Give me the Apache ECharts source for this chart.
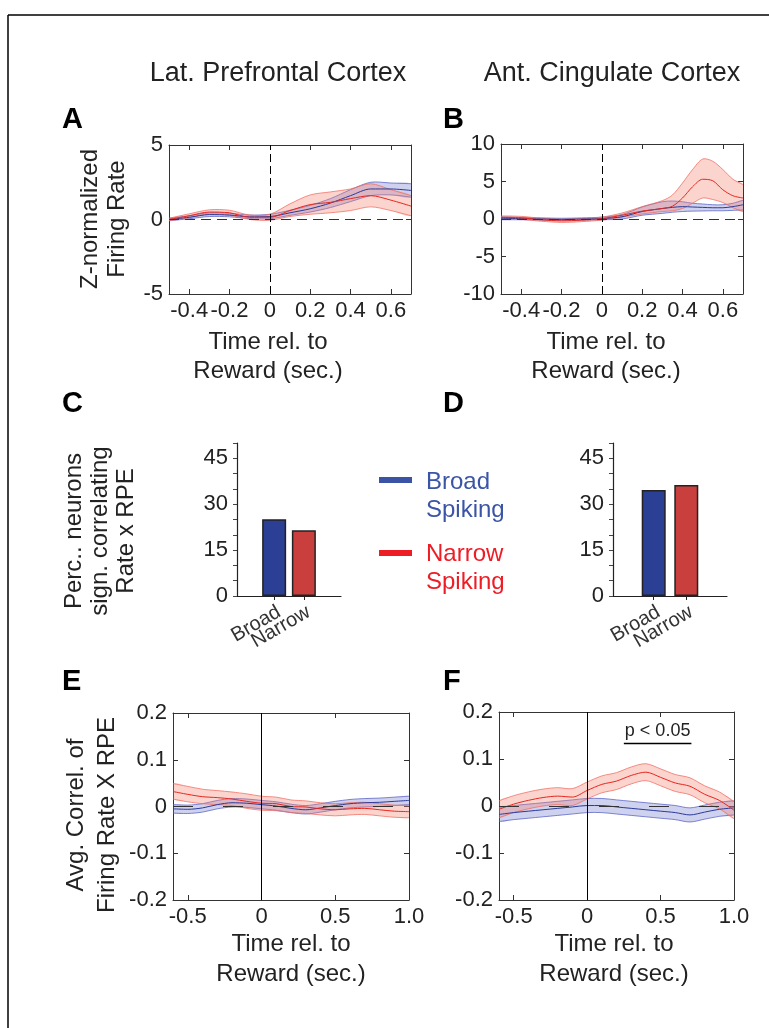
<!DOCTYPE html>
<html><head><meta charset="utf-8">
<script src="https://cdn.jsdelivr.net/npm/echarts@6/dist/echarts.min.js"></script>
<style>html,body{margin:0;padding:0;background:#fff}#c{width:769px;height:1028px}</style>
</head><body><div id="c"></div>
<script>
// ---------- DATA ----------
// Panel A (Lat. Prefrontal Cortex) z-normalized firing rate
const tA = [-0.5,-0.4,-0.3,-0.2,-0.1,0,0.1,0.2,0.3,0.4,0.5,0.6,0.7];
const aBroadMean = [0.0,0.15,0.33,0.3,0.18,0.2,0.45,0.72,1.1,1.6,2.05,2.05,1.95];
const aBroadHi   = [0.08,0.25,0.45,0.42,0.3,0.35,0.62,0.95,1.4,2.0,2.5,2.45,2.4];
const aBroadLo   = [-0.08,0.05,0.2,0.18,0.06,0.05,0.28,0.5,0.8,1.2,1.6,1.65,1.5];
const aNarrowMean= [0.0,0.25,0.5,0.45,0.15,0.15,0.6,1.0,1.15,1.4,1.6,1.3,0.9];
const aNarrowHi  = [0.08,0.38,0.65,0.62,0.3,0.35,1.05,1.65,1.85,2.05,2.4,2.0,1.6];
const aNarrowLo  = [-0.08,0.12,0.35,0.28,0.0,-0.05,0.2,0.35,0.45,0.6,0.85,0.6,0.25];
// Panel B (Ant. Cingulate Cortex)
const tB = [-0.5,-0.4,-0.3,-0.2,-0.1,0,0.1,0.2,0.3,0.35,0.4,0.45,0.5,0.55,0.6,0.65,0.7];
const bBroadMean = [0.1,0.05,0,-0.05,0,0.05,0.3,1.0,1.4,1.55,1.65,1.6,1.55,1.5,1.5,1.65,1.9];
const bBroadHi   = [0.3,0.2,0.15,0.1,0.15,0.25,0.6,1.6,2.3,2.4,2.3,2.1,2.0,1.9,1.9,2.1,2.5];
const bBroadLo   = [-0.1,-0.1,-0.15,-0.2,-0.15,-0.1,0.0,0.5,0.75,0.9,1.0,1.05,1.07,1.1,1.1,1.15,1.2];
const bNarrowMean= [0.2,0.15,-0.1,-0.25,-0.15,0.05,0.5,1.05,1.4,1.7,2.8,4.3,5.3,5.1,3.9,3.1,2.8];
const bNarrowHi  = [0.4,0.35,0.1,-0.05,0.05,0.25,0.8,1.65,2.45,3.2,4.8,6.6,8.0,7.7,6.6,5.3,4.6];
const bNarrowLo  = [0.0,-0.05,-0.3,-0.45,-0.35,-0.15,0.25,0.67,1.0,1.1,1.4,2.1,2.8,2.6,2.2,1.5,1.0];
// Panels C/D: percentage of neurons significantly correlating Rate x RPE
const barCats = ['Broad','Narrow'];
const barLPFC = [25.1, 21.5];
const barACC  = [34.6, 36.3];
// Panels E/F: avg correlation of firing rate x RPE
const tE = [-0.6,-0.5,-0.4,-0.3,-0.2,-0.1,0,0.1,0.2,0.3,0.4,0.5,0.6,0.7,0.8,0.9,1.0];
const eNarrowMean= [0.032,0.026,0.021,0.019,0.016,0.011,0.007,0.006,0.0,-0.001,-0.005,-0.007,-0.005,-0.004,-0.007,-0.01,-0.011];
const eNarrowHi  = [0.049,0.043,0.037,0.034,0.031,0.027,0.022,0.02,0.014,0.012,0.008,0.006,0.008,0.009,0.006,0.003,0.002];
const eNarrowLo  = [0.016,0.01,0.006,0.004,0.002,-0.004,-0.008,-0.009,-0.013,-0.015,-0.018,-0.02,-0.018,-0.017,-0.02,-0.023,-0.024];
const eBroadMean = [-0.005,-0.006,-0.003,0.004,0.008,0.007,0.004,0.001,-0.004,-0.007,-0.003,0.002,0.006,0.008,0.009,0.011,0.013];
const eBroadHi   = [0.004,0.003,0.006,0.013,0.017,0.016,0.013,0.01,0.005,0.002,0.006,0.011,0.015,0.017,0.018,0.02,0.022];
const eBroadLo   = [-0.014,-0.015,-0.012,-0.005,-0.001,-0.002,-0.005,-0.008,-0.013,-0.016,-0.012,-0.007,-0.003,-0.001,0.0,0.002,0.004];
const fNarrowMean= [-0.007,0.004,0.012,0.018,0.021,0.019,0.033,0.046,0.053,0.065,0.072,0.061,0.049,0.042,0.025,0.012,-0.009];
const fNarrowHi  = [0.011,0.022,0.03,0.036,0.039,0.037,0.051,0.064,0.071,0.083,0.09,0.079,0.067,0.06,0.043,0.03,0.009];
const fNarrowLo  = [-0.025,-0.014,-0.006,0.0,0.003,0.001,0.015,0.028,0.035,0.047,0.054,0.043,0.031,0.024,0.007,-0.006,-0.027];
const fBroadMean = [-0.018,-0.014,-0.011,-0.008,-0.005,-0.002,0.001,0.001,-0.002,-0.005,-0.008,-0.011,-0.014,-0.019,-0.013,-0.007,-0.004];
const fBroadHi   = [-0.003,0.001,0.004,0.007,0.01,0.013,0.016,0.016,0.013,0.01,0.007,0.004,0.001,-0.004,0.002,0.008,0.011];
const fBroadLo   = [-0.033,-0.029,-0.026,-0.023,-0.02,-0.017,-0.014,-0.014,-0.017,-0.02,-0.023,-0.026,-0.029,-0.034,-0.028,-0.022,-0.019];
const sigWindow = [0.25, 0.71];
const sigLevel = 0.133;
// tick labels
const ticksAB = [-0.4,-0.2,0,0.2,0.4,0.6];
const ticksEF = [-0.5,0,0.5,1.0];

// ---------- STYLE ----------
const FF = 'Liberation Sans, Arial, Helvetica, sans-serif';
const TXT = '#222';
const AX = '#333';
const RED = '#e8261f', RED_FILL = 'rgba(246,125,105,0.33)', RED_EDGE = 'rgba(240,105,95,0.75)';
const BLUE = '#2b3a99', BLUE_FILL = 'rgba(95,105,200,0.30)', BLUE_EDGE = 'rgba(85,95,195,0.75)';

const grids = [], xAxes = [], yAxes = [], series = [];

function fmtNum(v){ return String(+(+v).toFixed(2)); }

function bandSeries(xi, yi, xs, lo, hi, fill, edge){
  return {type:'custom', xAxisIndex:xi, yAxisIndex:yi, clip:true, silent:true, z:2,
    data:[[xs[0], lo[0]]],
    renderItem:function(params, api){
      const up = xs.map((x,i)=>api.coord([x,hi[i]]));
      const dn = xs.map((x,i)=>api.coord([x,lo[i]]));
      const poly = up.concat(dn.slice().reverse());
      return {type:'group', children:[
        {type:'polygon', shape:{points:poly, smooth:0.3}, style:{fill:fill, stroke:null}},
        {type:'polyline', shape:{points:up, smooth:0.3}, style:{fill:null, stroke:edge, lineWidth:1}},
        {type:'polyline', shape:{points:dn, smooth:0.3}, style:{fill:null, stroke:edge, lineWidth:1}}
      ]};
    }};
}
function meanSeries(xi, yi, xs, m, color){
  return {type:'line', xAxisIndex:xi, yAxisIndex:yi, data:xs.map((x,i)=>[x,m[i]]),
    smooth:0.3, symbol:'none', showSymbol:false, silent:true, z:3, clip:true,
    lineStyle:{color:color, width:1}};
}

function addLinePanel(g, xr, xt, xfmt, yr, yint, xs, broad, narrow, vType, hDash, extraMark){
  const gi = grids.length; grids.push(g);
  const xb = xAxes.length;
  const xc = {type:'value', gridIndex:gi, min:xr[0], max:xr[1],
    axisLine:{show:true, onZero:false, lineStyle:{color:AX, width:1}},
    splitLine:{show:false},
    axisTick:{show:true, inside:true, length:5, customValues:xt, lineStyle:{color:AX}}};
  xAxes.push(Object.assign({}, xc, {position:'bottom',
    axisLabel:{customValues:xt, formatter:xfmt, fontSize:22, color:TXT, margin:6, fontFamily:FF, hideOverlap:false}}));
  xAxes.push(Object.assign({}, xc, {position:'top', axisLabel:{show:false}}));
  const yb = yAxes.length;
  const yc = {type:'value', gridIndex:gi, min:yr[0], max:yr[1], interval:yint,
    axisLine:{show:true, onZero:false, lineStyle:{color:AX, width:1}},
    splitLine:{show:false},
    axisTick:{show:true, inside:true, length:5, lineStyle:{color:AX}}};
  yAxes.push(Object.assign({}, yc, {position:'left',
    axisLabel:{formatter:fmtNum, fontSize:22, color:TXT, margin:6, fontFamily:FF}}));
  yAxes.push(Object.assign({}, yc, {position:'right', axisLabel:{show:false}}));

  const markData = [
    {yAxis:0, lineStyle:{color:'#333', type:hDash, width:1.2}},
    {xAxis:0, lineStyle:{color:'#000', type:vType, width:1}}
  ];
  series.push({type:'line', xAxisIndex:xb, yAxisIndex:yb, data:[], silent:true, z:1,
    markLine:{symbol:'none', silent:true, animation:false, label:{show:false}, data:markData}});
  series.push(bandSeries(xb, yb, xs, broad.lo, broad.hi, BLUE_FILL, BLUE_EDGE));
  series.push(bandSeries(xb, yb, xs, narrow.lo, narrow.hi, RED_FILL, RED_EDGE));
  const bm = meanSeries(xb, yb, xs, broad.mean, BLUE);
  const nm = meanSeries(xb, yb, xs, narrow.mean, RED);
  if (extraMark) nm.markLine = extraMark;
  series.push(bm, nm);
}

function addBarPanel(g, vals){
  const gi = grids.length; grids.push(g);
  const xi = xAxes.length;
  const cv = vals.map((v,i)=>i+1);
  xAxes.push({type:'value', gridIndex:gi, min:-0.25, max:3.25, position:'bottom',
    axisLine:{show:true, onZero:false, lineStyle:{color:'#222', width:1.2}},
    splitLine:{show:false},
    axisTick:{show:true, customValues:cv, length:4, lineStyle:{color:'#222'}},
    axisLabel:{show:false}});
  const yi = yAxes.length;
  yAxes.push({type:'value', gridIndex:gi, min:0, max:50, interval:5, position:'left',
    axisLine:{show:true, onZero:false, lineStyle:{color:'#222', width:1.2}},
    splitLine:{show:false},
    axisTick:{show:true, length:4, lineStyle:{color:'#444'}},
    axisLabel:{formatter:v=>(v%15===0?String(v):''), fontSize:22, color:TXT, margin:9, fontFamily:FF}});
  const colors = ['#2b3f95','#c83f3e'];
  series.push({type:'bar', xAxisIndex:xi, yAxisIndex:yi, barWidth:24, silent:true,
    itemStyle:{borderColor:'#222', borderWidth:1.5},
    label:{show:true, position:'bottom', distance:6, rotate:30, align:'right', verticalAlign:'top',
      formatter:p=>barCats[p.dataIndex], fontSize:20, color:'#333', fontFamily:FF},
    labelLayout:{hideOverlap:false},
    data: vals.map((v,i)=>({value:[i+1,v], itemStyle:{color:colors[i]}}))});
}

// A
addLinePanel({left:169, top:145, width:242, height:149}, [-0.5,0.7], ticksAB, fmtNum, [-5,5], 5, tA,
  {mean:aBroadMean, hi:aBroadHi, lo:aBroadLo}, {mean:aNarrowMean, hi:aNarrowHi, lo:aNarrowLo}, [8,4], [10,6]);
// B
addLinePanel({left:501, top:144, width:242, height:150}, [-0.5,0.7], ticksAB, fmtNum, [-10,10], 5, tB,
  {mean:bBroadMean, hi:bBroadHi, lo:bBroadLo}, {mean:bNarrowMean, hi:bNarrowHi, lo:bNarrowLo}, [8,4], [10,6]);
// C, D
addBarPanel({left:237, top:443, width:104, height:153}, barLPFC);
addBarPanel({left:613, top:443, width:114, height:153}, barACC);
// E
const fmtEF = v => (Math.abs(v-1)<1e-9 ? '1.0' : fmtNum(v));
addLinePanel({left:173, top:713, width:236, height:187}, [-0.6,1.0], ticksEF, fmtEF, [-0.2,0.2], 0.1, tE,
  {mean:eBroadMean, hi:eBroadHi, lo:eBroadLo}, {mean:eNarrowMean, hi:eNarrowHi, lo:eNarrowLo}, 'solid', [20,30]);
// F
addLinePanel({left:499, top:712, width:235, height:188}, [-0.6,1.0], ticksEF, fmtEF, [-0.2,0.2], 0.1, tE,
  {mean:fBroadMean, hi:fBroadHi, lo:fBroadLo}, {mean:fNarrowMean, hi:fNarrowHi, lo:fNarrowLo}, 'solid', [20,30],
  {symbol:'none', silent:true, animation:false,
   lineStyle:{color:'#000', type:'solid', width:1.3},
   label:{show:true, position:'middle', formatter:'p < 0.05', fontSize:18, color:TXT, fontFamily:FF, distance:3},
   data:[[{coord:[sigWindow[0], sigLevel]}, {coord:[sigWindow[1], sigLevel]}]]});

// ---------- TEXT / DECORATION ----------
function txt(x, y, s, o){
  o = o || {};
  return {type:'text', x:x, y:y, rotation:o.rot||0, silent:true, z:100,
    style:{text:s, fill:o.color||TXT, font:(o.weight||'normal')+' '+(o.size||24)+'px '+FF,
      textAlign:o.align||'center', textVerticalAlign:'middle'}};
}
const R = Math.PI/2;
const graphic = [
  {type:'line', silent:true, shape:{x1:8, y1:15, x2:769, y2:15}, style:{stroke:'#000', lineWidth:1.5}},
  {type:'line', silent:true, shape:{x1:8, y1:15, x2:8, y2:1028}, style:{stroke:'#000', lineWidth:1.5}},
  txt(278, 74, 'Lat. Prefrontal Cortex', {size:27}),
  txt(612, 74, 'Ant. Cingulate Cortex', {size:27}),
  txt(62, 120, 'A', {size:29, weight:'bold', align:'left', color:'#000'}),
  txt(443, 120, 'B', {size:29, weight:'bold', align:'left', color:'#000'}),
  txt(62, 404, 'C', {size:29, weight:'bold', align:'left', color:'#000'}),
  txt(443, 404, 'D', {size:29, weight:'bold', align:'left', color:'#000'}),
  txt(62, 682, 'E', {size:29, weight:'bold', align:'left', color:'#000'}),
  txt(443, 682, 'F', {size:29, weight:'bold', align:'left', color:'#000'}),
  txt(90, 219, 'Z-normalized', {rot:R}),
  txt(117, 219, 'Firing Rate', {rot:R}),
  txt(74, 531, 'Perc.. neurons', {rot:R}),
  txt(100, 531, 'sign. correlating', {rot:R}),
  txt(126, 531, 'Rate x RPE', {rot:R}),
  txt(76, 815, 'Avg. Correl. of', {rot:R}),
  txt(107, 815, 'Firing Rate X RPE', {rot:R}),
  txt(268, 342, 'Time rel. to'), txt(268, 371, 'Reward (sec.)'),
  txt(606, 342, 'Time rel. to'), txt(606, 371, 'Reward (sec.)'),
  txt(291, 944, 'Time rel. to'), txt(291, 974, 'Reward (sec.)'),
  txt(614, 944, 'Time rel. to'), txt(614, 974, 'Reward (sec.)'),
  {type:'line', silent:true, shape:{x1:379, y1:480, x2:412, y2:480}, style:{stroke:'#3a53a4', lineWidth:6}},
  {type:'line', silent:true, shape:{x1:379, y1:553, x2:412, y2:553}, style:{stroke:'#ee1c24', lineWidth:6}},
  txt(426, 482, 'Broad', {align:'left', color:'#3b55a6'}),
  txt(426, 510, 'Spiking', {align:'left', color:'#3b55a6'}),
  txt(426, 554, 'Narrow', {align:'left', color:'#ee1c24'}),
  txt(426, 582, 'Spiking', {align:'left', color:'#ee1c24'})
];

const chart = echarts.init(document.getElementById('c'), null, {renderer:'canvas'});
chart.setOption({
  backgroundColor:'#fff', animation:false,
  textStyle:{fontFamily:FF},
  grid:grids, xAxis:xAxes, yAxis:yAxes, series:series, graphic:graphic
});
</script></body></html>
